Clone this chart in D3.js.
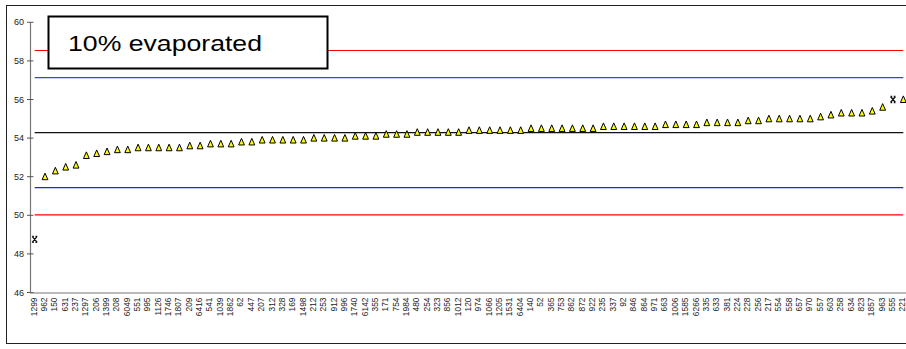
<!DOCTYPE html>
<html>
<head>
<meta charset="utf-8">
<script src="https://cdn.jsdelivr.net/npm/d3@7"></script>
<style>
  html, body { margin: 0; padding: 0; background: #fff; }
  svg { display: block; }
  .axis-label { font-family: "Liberation Sans Narrow", "Arial Narrow", Arial, "Liberation Sans", sans-serif; fill: #222; }
</style>
</head>
<body>
<svg id="chart" width="906" height="349"></svg>
<script>
// Sample IDs, ordered by result
const categories = [
  "1299","962","150","631","237","1297","206","1399","208","6049",
  "551","995","1126","1746","1807","209","6416","541","1039","1862",
  "62","447","207","312","328","169","1498","212","253","912",
  "996","1740","6142","355","171","754","1984","480","254","323",
  "856","1012","120","974","1066","1205","1531","6404","140","52",
  "365","753","862","872","922","235","337","92","846","864",
  "971","663","1006","1585","6266","335","633","381","224","228",
  "256","217","554","558","657","970","557","603","258","634",
  "823","1857","963","555","221"
];

// Temperature at 10% evaporated, per sample
const values = [
  48.75, 52.0, 52.3, 52.5, 52.6, 53.1, 53.2, 53.3, 53.4, 53.4,
  53.5, 53.5, 53.5, 53.5, 53.5, 53.6, 53.6, 53.7, 53.7, 53.7,
  53.8, 53.8, 53.9, 53.9, 53.9, 53.9, 53.9, 54.0, 54.0, 54.0,
  54.0, 54.1, 54.1, 54.1, 54.2, 54.2, 54.2, 54.3, 54.3, 54.3,
  54.3, 54.3, 54.4, 54.4, 54.4, 54.4, 54.4, 54.4, 54.5, 54.5,
  54.5, 54.5, 54.5, 54.5, 54.5, 54.6, 54.6, 54.6, 54.6, 54.6,
  54.6, 54.7, 54.7, 54.7, 54.7, 54.8, 54.8, 54.8, 54.8, 54.9,
  54.9, 55.0, 55.0, 55.0, 55.0, 55.0, 55.1, 55.2, 55.3, 55.3,
  55.3, 55.4, 55.6, 56.0, 56.0
];

// Results flagged as outliers (drawn with an x instead of a triangle)
const outliers = ["1299", "555"];

// Reference levels: mean, warning limits, action limits
const limitNames  = ["upperAction", "upperWarning", "mean", "lowerWarning", "lowerAction"];
const limitValues = [58.54, 57.13, 54.28, 51.43, 50.02];
const limitColors = ["#ff0000", "#3b3bff", "#111111", "#2222e8", "#ff0000"];

const yTicks = [46, 48, 50, 52, 54, 56, 58, 60];
const title = "10% evaporated";

const svg = d3.select("#chart");
const W = 906, H = 349;

// outer frame
svg.append("rect")
  .attr("x", 6.5).attr("y", 5.5)
  .attr("width", W + 10).attr("height", 338)
  .attr("fill", "none").attr("stroke", "#222").attr("stroke-width", 1);

const x = d3.scaleBand().domain(categories).range([29.5, 908.5]).padding(0);
const y = d3.scaleLinear().domain([46, 60]).range([292.5, 22.3]);
const cx = d => x(d) + x.bandwidth() / 2;

// reference lines, spanning first to last category
const line = d3.line().x(d => cx(d[0])).y(d => y(d[1]));
limitValues.forEach((v, i) => {
  svg.append("path")
    .attr("class", "limit " + limitNames[i])
    .attr("d", line([[categories[0], v], [categories[categories.length - 1], v]]))
    .attr("fill", "none")
    .attr("stroke", limitColors[i])
    .attr("stroke-width", 1.2);
});

// y axis
const axisColor = "#777";
svg.append("line")
  .attr("x1", 30.5).attr("x2", 30.5)
  .attr("y1", y(60)).attr("y2", y(46))
  .attr("stroke", axisColor).attr("stroke-width", 1.2);
const yAxis = svg.append("g");
yTicks.forEach(t => {
  yAxis.append("line")
    .attr("x1", 27).attr("x2", 33.5)
    .attr("y1", y(t)).attr("y2", y(t))
    .attr("stroke", "#555").attr("stroke-width", 1);
  yAxis.append("text")
    .attr("class", "axis-label")
    .attr("x", 24).attr("y", y(t))
    .attr("dy", "0.35em")
    .attr("text-anchor", "end")
    .attr("font-size", 9)
    .text(t);
});

// x axis
svg.append("line")
  .attr("x1", 30).attr("x2", W)
  .attr("y1", y(46) + 0.5).attr("y2", y(46) + 0.5)
  .attr("stroke", axisColor).attr("stroke-width", 1.2);
const xAxis = svg.append("g");
categories.forEach(c => {
  xAxis.append("text")
    .attr("class", "axis-label")
    .attr("transform", `translate(${cx(c) + 2},${y(46) + 5}) rotate(-90)`)
    .attr("text-anchor", "end")
    .attr("font-size", 8.4)
    .text(c);
});

// data markers
const pts = categories.map((c, i) => ({ c, v: values[i], out: outliers.includes(c) }));
const tri = "M0,-3.6 L2.9,3 L-2.9,3 Z";
svg.append("g").selectAll("path.tri")
  .data(pts.filter(d => !d.out))
  .join("path")
  .attr("class", "tri")
  .attr("transform", d => `translate(${cx(d.c)},${y(d.v)})`)
  .attr("d", tri)
  .attr("fill", "#ffff00")
  .attr("stroke", "#000")
  .attr("stroke-width", 1);

const cross = "M-2.5,-3 L2.5,3 M2.5,-3 L-2.5,3 M-2.5,-3 L-0.8,-3 M0.8,-3 L2.5,-3 M-2.5,3 L-0.8,3 M0.8,3 L2.5,3";
svg.append("g").selectAll("path.out")
  .data(pts.filter(d => d.out))
  .join("path")
  .attr("class", "out")
  .attr("transform", d => `translate(${cx(d.c)},${y(d.v)})`)
  .attr("d", cross)
  .attr("fill", "none")
  .attr("stroke", "#111")
  .attr("stroke-width", 1.3);

// title box
svg.append("rect")
  .attr("x", 48.5).attr("y", 16.5)
  .attr("width", 279).attr("height", 52)
  .attr("fill", "#fff")
  .attr("stroke", "#000").attr("stroke-width", 2);
svg.append("text")
  .attr("x", 68).attr("y", 51)
  .attr("font-family", "Arial, 'Liberation Sans', sans-serif")
  .attr("font-size", 22.5)
  .attr("textLength", 194)
  .attr("lengthAdjust", "spacingAndGlyphs")
  .attr("fill", "#000")
  .text(title);
</script>
</body>
</html>
